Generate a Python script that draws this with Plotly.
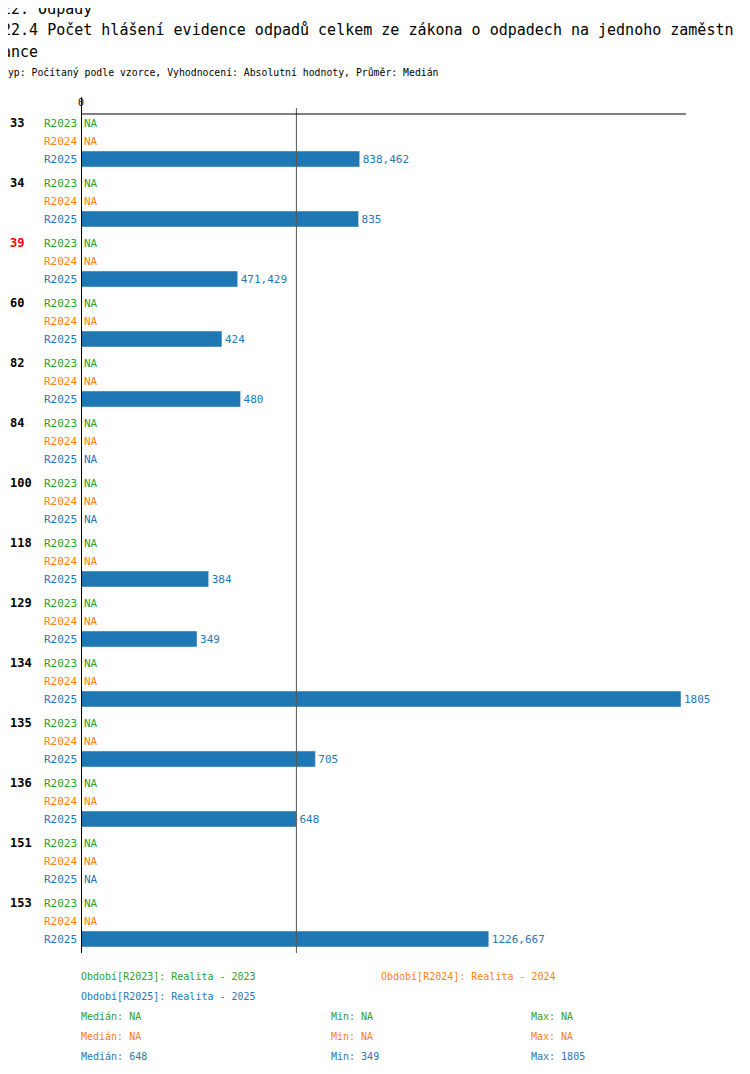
import plotly.graph_objects as go

# data
groups = ['33', '34', '39', '60', '82', '84', '100', '118', '129', '134', '135', '136', '151', '153']
periods = ['R2023', 'R2024', 'R2025']
r2025 = [838.462, 835, 471.429, 424, 480, None, None, 384, 349, 1805, 705, 648, None, 1226.667]
r2025_text = ['838,462', '835', '471,429', '424', '480', None, None, '384', '349', '1805', '705', '648', None, '1226,667']
median_2025 = 648
colors = {'R2023': '#2ca02c', 'R2024': '#ff7f0e', 'R2025': '#1f77b4'}

FONT = 'DejaVu Sans Mono'
W, H = 750, 1074
OFF = 8  # page body margin
L, R, T, B = 81, 686, 114, 953  # plot area in page pixels

def ypos(g, j):
    return 60 * g + 18 * j

def py(pix):  # page pixel -> paper y
    return (B - pix) / (B - T)

def fx(pix):  # page pixel -> paper x
    return (pix - L) / (R - L)

fig = go.Figure()
ys = [ypos(g, 2) for g in range(len(groups))]
xs = [v if v is not None else 0 for v in r2025]
fig.add_trace(go.Bar(
    x=xs, y=ys, orientation='h', width=16,
    marker_color=colors['R2025'],
    text=[t if t else '' for t in r2025_text], textposition='outside',
    textfont=dict(family=FONT, size=11, color=colors['R2025']),
    cliponaxis=False, hoverinfo='skip', showlegend=False))

ann = []
for g, name in enumerate(groups):
    ann.append(dict(x=fx(8), xref='paper', xanchor='left', y=ypos(g, 0), yref='y', text='<b>%s</b>' % name,
                    showarrow=False, font=dict(family=FONT, size=12, color='red' if name == '39' else 'black')))
    for j, p in enumerate(periods):
        ann.append(dict(x=0, xref='x', xanchor='right', xshift=-2, y=ypos(g, j), yref='y', text=p,
                        showarrow=False, font=dict(family=FONT, size=11, color=colors[p])))
        if p != 'R2025' or r2025[g] is None:
            ann.append(dict(x=0, xref='x', xanchor='left', xshift=1, y=ypos(g, j), yref='y', text='NA',
                            showarrow=False, font=dict(family=FONT, size=11, color=colors[p])))

def titletext(xpix, ypix, text, size, color='black'):
    ann.append(dict(x=fx(xpix), xref='paper', y=py(ypix), yref='paper', xanchor='left', yanchor='middle',
                    text=text, showarrow=False, font=dict(family=FONT, size=size, color=color)))

titletext(0, 9, '22. Odpady', 15)
titletext(0, 30, '22.4 Počet hlášení evidence odpadů celkem ze zákona o odpadech na jednoho zaměstn', 15)
titletext(0, 52, 'ance', 15)
titletext(0, 73, 'Typ: Počítaný podle vzorce, Vyhodnocení: Absolutní hodnoty, Průměr: Medián', 9.8)
titletext(76, 103, '0', 10)

titletext(79, 976, 'Období[R2023]: Realita - 2023', 10, colors['R2023'])
titletext(379, 976, 'Období[R2024]: Realita - 2024', 10, colors['R2024'])
titletext(79, 996, 'Období[R2025]: Realita - 2025', 10, colors['R2025'])
stats = [('R2023', 'NA', 'NA', 'NA'), ('R2024', 'NA', 'NA', 'NA'), ('R2025', '648', '349', '1805')]
for i, (p, med, mn, mx) in enumerate(stats):
    yy = 1016 + 20 * i
    titletext(79, yy, 'Medián: ' + med, 10, colors[p])
    titletext(329, yy, 'Min: ' + mn, 10, colors[p])
    titletext(529, yy, 'Max: ' + mx, 10, colors[p])

shapes = [
    dict(type='line', xref='x', yref='paper', x0=median_2025, x1=median_2025, y0=0, y1=py(108),
         line=dict(color='#555', width=1)),
    dict(type='line', xref='x', yref='paper', x0=0, x1=0, y0=0, y1=py(97),
         line=dict(color='black', width=2)),
    dict(type='line', xref='paper', yref='paper', x0=0, x1=1, y0=1, y1=1,
         line=dict(color='black', width=1)),
]

fig.update_layout(
    width=W, height=H,
    margin=dict(l=L - OFF, r=W + OFF - R, t=T - OFF, b=H + OFF - B),
    plot_bgcolor='white', paper_bgcolor='white',
    xaxis=dict(range=[0, (R - L) / (600 / 1805)], showgrid=False, showticklabels=False, zeroline=False),
    yaxis=dict(range=[B - T - 9, -9], showgrid=False, showticklabels=False, zeroline=False),
    annotations=ann, shapes=shapes, font=dict(family=FONT))

fig.write_html('out.html')
